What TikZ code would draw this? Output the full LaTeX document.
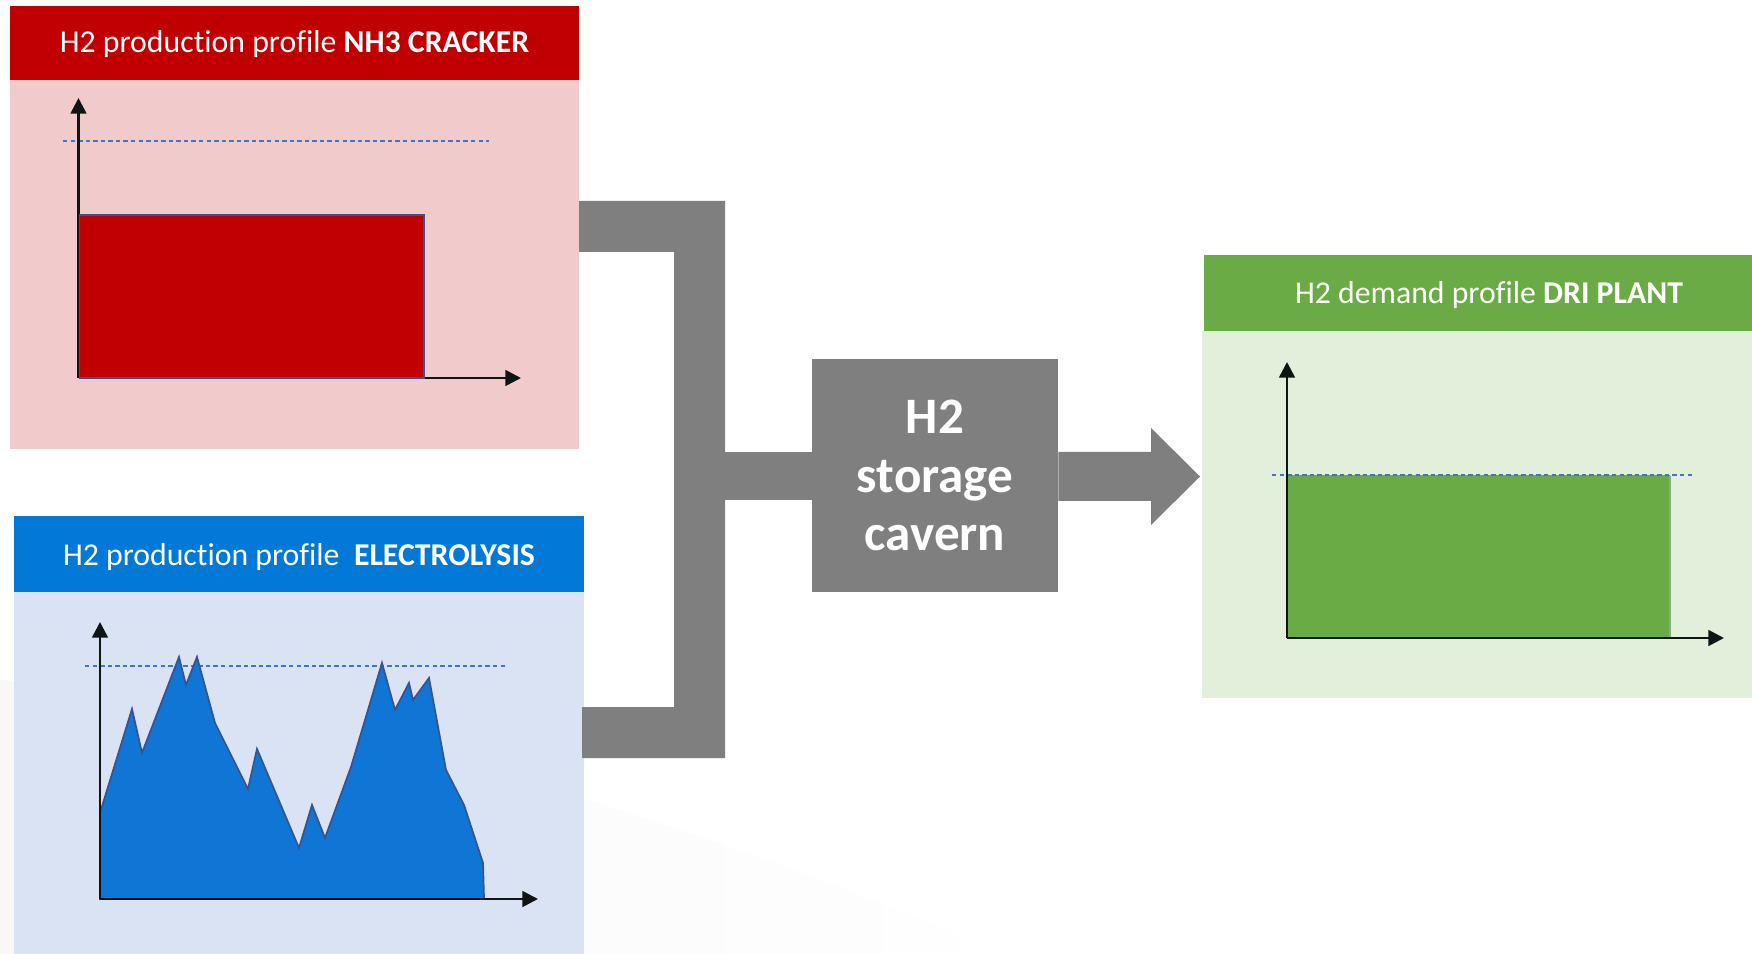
\documentclass[tikz,border=0pt]{standalone}
\usepackage{fontspec}
\setmainfont{Carlito}[Ligatures=NoCommon]
\usetikzlibrary{arrows.meta,calc}
\definecolor{crRed}{RGB}{192,0,0}
\definecolor{crPink}{RGB}{241,203,203}
\definecolor{elBlue}{RGB}{2,120,215}
\definecolor{elLight}{RGB}{218,227,243}
\definecolor{elFill}{RGB}{16,118,214}
\definecolor{elEdge}{RGB}{52,84,146}
\definecolor{drGreen}{RGB}{106,171,70}
\definecolor{drLight}{RGB}{226,239,218}
\definecolor{drEdge}{RGB}{140,168,140}
\definecolor{pipeGray}{RGB}{127,127,127}
\definecolor{dashBlue}{RGB}{68,114,196}
\definecolor{axisInk}{RGB}{15,20,20}
\begin{document}
\begin{tikzpicture}[x=0.45pt,y=-0.45pt,
  headtxt/.style={text=white, font=\fontsize{14.3}{17}\selectfont, anchor=base, inner sep=0pt},
  axisline/.style={line width=1.2pt, draw=axisInk, -{Triangle[length=7pt,width=7pt]}},
  refline/.style={draw=dashBlue, line width=0.6pt, dash pattern=on 2pt off 1.4pt},
  pipe/.style={fill=pipeGray},
  cavbox/.style={fill=pipeGray, inner sep=0pt, minimum width=110.7pt, minimum height=104.85pt,
    text=white, align=center, font=\bfseries\fontsize{23}{26.3}\selectfont}]
\useasboundingbox (0,0) rectangle (1752,954);
\fill[white] (0,0) rectangle (1752,954);
% very faint background swoosh
\shade[left color=black!5, right color=white, opacity=0.5] (0,680) .. controls (300,700) and (700,820) .. (1000,954) -- (0,954) -- cycle;

% ---------------- NH3 cracker panel ----------------
\fill[crPink] (10,80) rectangle (579,449);
\fill[crRed] (10,6) rectangle (579,80);
\node[headtxt] (redtitle) at (294.5,53) {H2 production profile \textbf{NH3 CRACKER}};
\coordinate (ro) at (78.5,378);
\coordinate (rytip) at (78.5,98);
\coordinate (rxtip) at (521,378);
\draw[refline] (63,141) coordinate (rd1) -- (489,141) coordinate (rd2);
\draw[axisline] (ro) -- (rytip);
\draw[axisline] (ro) -- (rxtip);
\draw[fill=crRed, draw=elEdge, line width=0.7pt] (79.5,215) rectangle (424,378);

% ---------------- Electrolysis panel ----------------
\fill[elLight] (14,592) rectangle (584,954);
\fill[elBlue] (14,516) rectangle (584,592);
\node[headtxt] (bluetitle) at (299,565) {H2 production profile\ \ \textbf{ELECTROLYSIS}};
\coordinate (bo) at (100,899);
\coordinate (bytip) at (100,622);
\coordinate (bxtip) at (538,899);
\draw[refline] (85,666) -- (508,666);
\draw[fill=elFill, draw=elEdge, line width=0.8pt, line join=miter]
  (100,813) -- (132,709) -- (142,753) -- (179,657) -- (186,685) -- (197,657)
  -- (215,723) -- (248,789) -- (257,749) -- (299,848) -- (312,805) -- (325,838)
  -- (351,767) -- (382,663) -- (395,710) -- (409,683) -- (413,700) -- (429,678)
  -- (446,770) -- (464,805) -- (483,863) -- (484,899) -- (100,899) -- cycle;
\draw[axisline] (bo) -- (bytip);
\draw[axisline] (bo) -- (bxtip);

% ---------------- DRI plant panel ----------------
\fill[drLight] (1202,331) rectangle (1752,698);
\fill[drGreen] (1204,255) rectangle (1752,331);
\node[headtxt] (greentitle) at (1489,304) {H2 demand profile \textbf{DRI PLANT}};
\coordinate (go) at (1287,638);
\coordinate (gytip) at (1287,362);
\coordinate (gxtip) at (1724,638);
\fill[drGreen] (1287,475) rectangle (1670,638);
\draw[drEdge, line width=0.8pt] (1670,476) -- (1670,638);
\draw[refline] (1272,475) -- (1695,475);
\draw[axisline] (go) -- (gytip);
\draw[axisline] (go) -- (gxtip);

% ---------------- storage and pipes ----------------
\node[cavbox] (cav) at (935,475.5) {H2\\storage\\cavern};
% bracket collecting both producers
\fill[pipe] (579,201) -- (725,201) -- (725,758) -- (582,758) -- (582,707)
  -- (674,707) -- (674,252) -- (579,252) -- cycle;
\coordinate (bk) at (725,476.5);
\fill[pipe] ($(bk)+(0,-24.5)$) rectangle ($(cav.west)+(0,25)$);
% output arrow to DRI plant
\coordinate (tipend) at (1200,476.5);
\fill[pipe] ($(cav.east)+(0,-23.5)$) -- ($(tipend)+(-49,-24.5)$) -- ($(tipend)+(-49,-48.5)$)
  -- (tipend) -- ($(tipend)+(-49,48.5)$) -- ($(tipend)+(-49,24.5)$) -- ($(cav.east)+(0,25.5)$) -- cycle;
\end{tikzpicture}
\end{document}
